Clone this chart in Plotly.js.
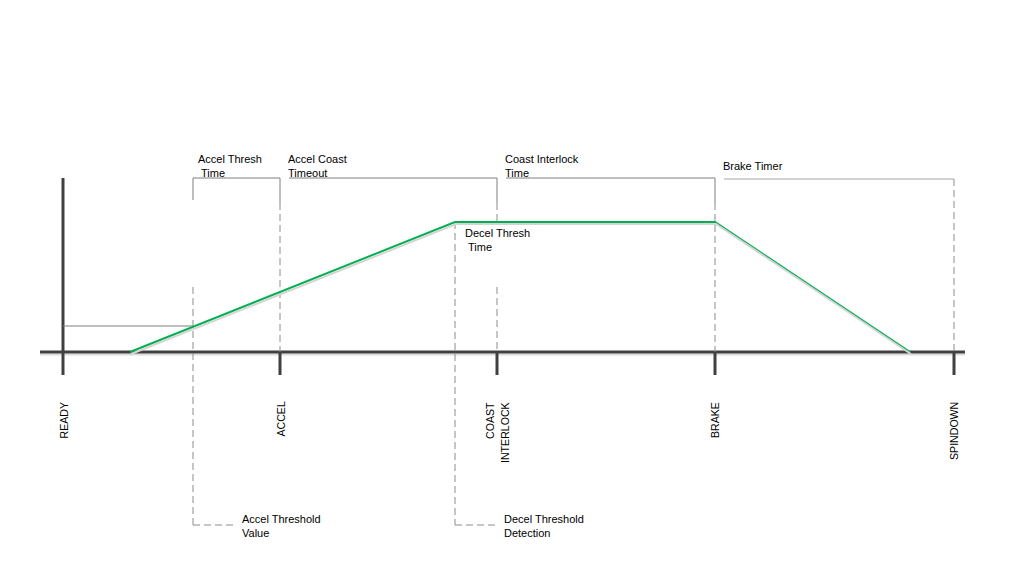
<!DOCTYPE html>
<html>
<head>
<meta charset="utf-8">
<script src="https://cdn.plot.ly/plotly-3.0.1.min.js"></script>
<style>html,body{margin:0;padding:0;background:#fff;}#chart{width:1011px;height:585px;}</style>
</head>
<body>
<div id="chart"></div>
<script>
// ---- data (time in arbitrary ticks from READY, speed in arbitrary units) ----
const stateNames = ['READY', 'ACCEL', 'COAST\nINTERLOCK', 'BRAKE', 'SPINDOWN'];
const stateTimes = [0, 217, 434, 652, 891];
const profileTimes = [67, 392, 652, 847];
const profileSpeeds = [0, 130, 130, 0];
const accelThresholdTime = 130;
const accelThresholdSpeed = 26;
const decelThresholdTime = 392;
const timerNames = ['Accel Thresh\n\u00a0Time', 'Accel Coast\nTimeout', 'Coast Interlock\nTime', 'Brake Timer'];
const timerStarts = [130, 217, 434, 652];
const timerEnds = [217, 434, 652, 891];
const thresholdNames = ['Accel Threshold\nValue', 'Decel Threshold\nDetection'];
const thresholdTimes = [accelThresholdTime, decelThresholdTime];

// ---- layout constants (pixel-based units: 1 unit = 1 px) ----
const BRACKET_Y = 174, SOLID_END = 152, LOW_Y = -173, TICK_LOW = -23;
const AXIS_COL = '#404040', BR_COL = '#7f7f7f', DASH_COL = '#8c8c8c';
const DASH = '7px,4px';

const shapes = [];
function line(x0, y0, x1, y1, color, width, dash) {
  shapes.push({type: 'line', xref: 'x', yref: 'y', x0, y0, x1, y1, layer: 'below',
    line: {color, width, dash: dash || 'solid'}});
}
// axis shadow + axes
line(-23, -2.5, 902, -2.5, '#dcdcdc', 2);
line(-23, 0, 902, 0, AXIS_COL, 3);
line(0, TICK_LOW, 0, BRACKET_Y, AXIS_COL, 3);
stateTimes.slice(1).forEach(t => line(t, 0, t, TICK_LOW, AXIS_COL, 3));

// accel threshold value line
line(0, accelThresholdSpeed, accelThresholdTime, accelThresholdSpeed, BR_COL, 1);

// timer brackets
timerStarts.forEach((s, i) => {
  const e = timerEnds[i];
  const last = i === timerStarts.length - 1;
  const yb = last ? BRACKET_Y - 1 : BRACKET_Y;
  if (i === 0) {
    line(s, yb, e, yb, BR_COL, 1);
    line(s, yb, s, SOLID_END, BR_COL, 1);
  } else {
    line(s + 9, yb, e, yb, i === 3 ? '#a6a6a6' : BR_COL, 1);
  }
  if (last) {
    line(e, yb, e, 0, DASH_COL, 1, DASH);
  } else {
    line(e, yb, e, SOLID_END - 3, BR_COL, 1);
    if (i === 1) {
      line(e, SOLID_END - 3, e, 127, DASH_COL, 1, DASH);
      line(e, 65, e, 0, DASH_COL, 1, DASH);
    } else {
      line(e, SOLID_END - 3, e, 0, DASH_COL, 1, DASH);
    }
  }
});

// threshold detection drop lines
line(accelThresholdTime, 65, accelThresholdTime, LOW_Y, DASH_COL, 1, DASH);
line(accelThresholdTime, LOW_Y, accelThresholdTime + 44, LOW_Y, DASH_COL, 1, DASH);
line(decelThresholdTime, profileSpeeds[1], decelThresholdTime, LOW_Y, DASH_COL, 1, DASH);
line(decelThresholdTime, LOW_Y, decelThresholdTime + 44, LOW_Y, DASH_COL, 1, DASH);

// ---- annotations ----
const FONT = 'Liberation Sans, Arial, sans-serif';
const annotations = [];
function label(text, x, y, opts) {
  annotations.push(Object.assign({
    text: text.replace(/\n/g, '<br>'), x, y, xref: 'x', yref: 'y', showarrow: false,
    xanchor: 'left', yanchor: 'middle', align: 'left',
    font: {family: FONT, size: 11, color: '#000'}, bgcolor: 'rgba(0,0,0,0)'
  }, opts || {}));
}
timerNames.forEach((n, i) => {
  const x = (i === 0 ? timerStarts[i] : timerStarts[i] + 3) + 3;
  label(n, x, i === 3 ? 186 : 186.5);
});
label('Decel Thresh\n\u00a0Time', decelThresholdTime + 8, 112.5);
thresholdNames.forEach((n, i) => label(n, thresholdTimes[i] + 47, -174));

stateNames.forEach((n, i) => {
  const lines = n.split('\n');
  lines.forEach((ln, j) => {
    annotations.push({
      text: ln, x: stateTimes[i] + (j - (lines.length - 1) / 2) * 15, y: -48,
      xref: 'x', yref: 'y', showarrow: false, textangle: -90,
      xanchor: 'center', yanchor: 'top',
      font: {family: FONT, size: 10.6, color: '#000'}
    });
  });
});

// ---- traces ----
const traces = [
  {x: profileTimes, y: profileSpeeds, xaxis: 'x2', yaxis: 'y2', mode: 'lines',
   line: {color: '#d4d4d4', width: 2}, hoverinfo: 'skip'},
  {x: profileTimes, y: profileSpeeds, mode: 'lines',
   line: {color: '#00b050', width: 2}, hoverinfo: 'skip'}
];

const layout = {
  width: 1011, height: 585,
  margin: {l: 0, r: 0, t: 0, b: 0, pad: 0},
  paper_bgcolor: '#fff', plot_bgcolor: '#fff',
  showlegend: false,
  xaxis: {range: [-63, 948], visible: false, fixedrange: true},
  yaxis: {range: [-233, 352], visible: false, fixedrange: true},
  xaxis2: {range: [-64, 947], visible: false, overlaying: 'x'},
  yaxis2: {range: [-231, 354], visible: false, overlaying: 'y'},
  shapes, annotations
};
Plotly.newPlot('chart', traces, layout, {staticPlot: true, displayModeBar: false});
</script>
</body>
</html>
